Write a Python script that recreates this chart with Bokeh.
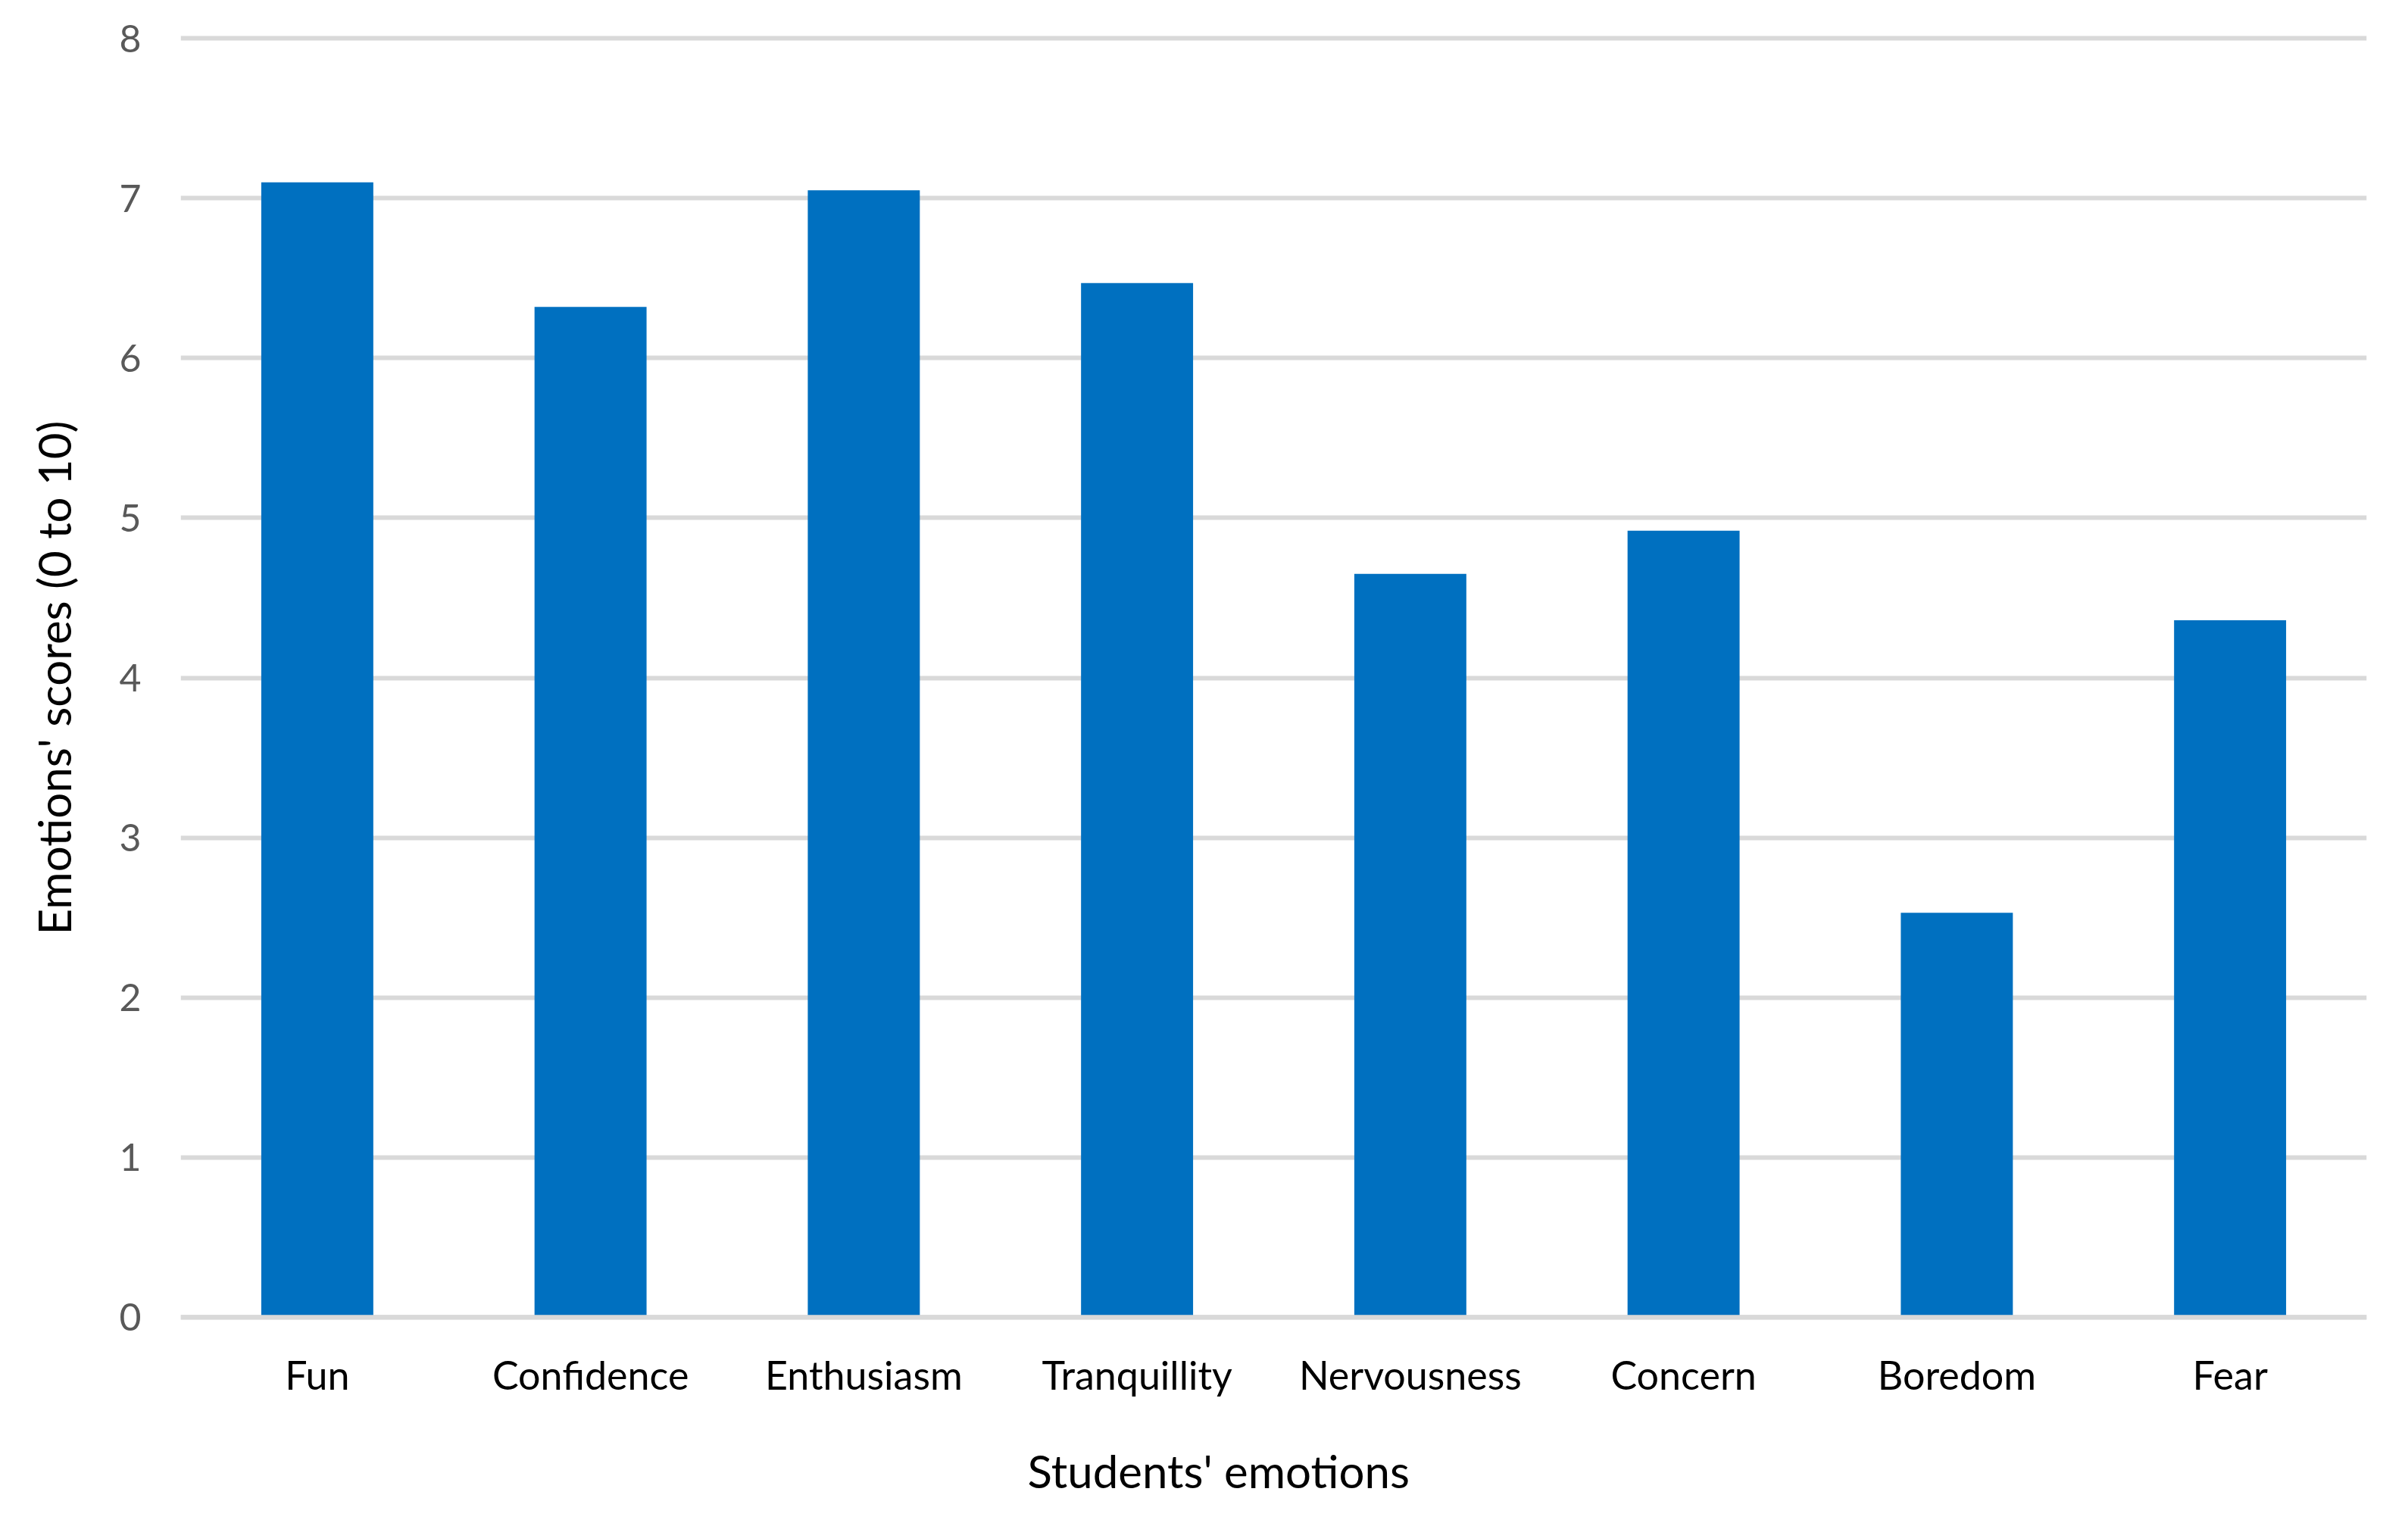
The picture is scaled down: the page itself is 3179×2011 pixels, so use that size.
from bokeh.plotting import figure
from bokeh.models import Range1d, FactorRange, Span, FixedTicker, ColumnDataSource, Title
from bokeh.embed import file_html
from bokeh.resources import INLINE

emotions = ["Fun", "Confidence", "Enthusiasm", "Tranquillity",
            "Nervousness", "Concern", "Boredom", "Fear"]
scores = [7.10, 6.32, 7.05, 6.47, 4.65, 4.92, 2.53, 4.36]
y_ticks = [0, 1, 2, 3, 4, 5, 6, 7, 8]
x_title = "Students' emotions"
y_title = "Emotions' scores (0 to 10)"

FONT = "Lato"

source = ColumnDataSource(data=dict(emotion=emotions, score=scores))

p = figure(
    x_range=FactorRange(*emotions),
    y_range=Range1d(-0.02, 8.02),
    frame_width=2886, frame_height=1697,
    min_border_left=238, min_border_right=39,
    min_border_top=46, min_border_bottom=252,
    output_backend="svg", toolbar_location=None,
)

p.vbar(x="emotion", top="score", width=0.41, source=source,
       fill_color="#0070C0", line_color=None)

p.add_layout(Span(location=0, dimension="width", line_color="#d9d9d9", line_width=6))

p.outline_line_color = None
p.background_fill_color = "white"
p.border_fill_color = "white"

p.xgrid.grid_line_color = None
p.ygrid.grid_line_color = "#d9d9d9"
p.ygrid.grid_line_width = 6
p.yaxis.ticker = FixedTicker(ticks=y_ticks)

for ax in (p.xaxis, p.yaxis):
    ax.axis_line_color = None
    ax.major_tick_line_color = None
    ax.minor_tick_line_color = None
    ax.major_tick_out = 0
    ax.major_tick_in = 0
    ax.major_label_text_font = FONT
    ax.axis_label_text_font = FONT
    ax.axis_label_text_font_style = "normal"
    ax.axis_label_text_color = "black"
    ax.axis_label_text_font_size = "60px"

p.yaxis.major_label_text_font_size = "50px"
p.xaxis.major_label_text_font_size = "52px"
p.yaxis.major_label_text_color = "#595959"
p.xaxis.major_label_text_color = "black"
p.yaxis.major_label_standoff = 52
p.xaxis.major_label_standoff = 40
p.yaxis.axis_label = y_title
p.yaxis.axis_label_standoff = 47

p.add_layout(Title(text=x_title, align="left", offset=1118, standoff=111,
                   text_font=FONT, text_font_size="60px",
                   text_font_style="normal", text_color="black"), "below")

open("out.html", "w").write(file_html(p, INLINE))
